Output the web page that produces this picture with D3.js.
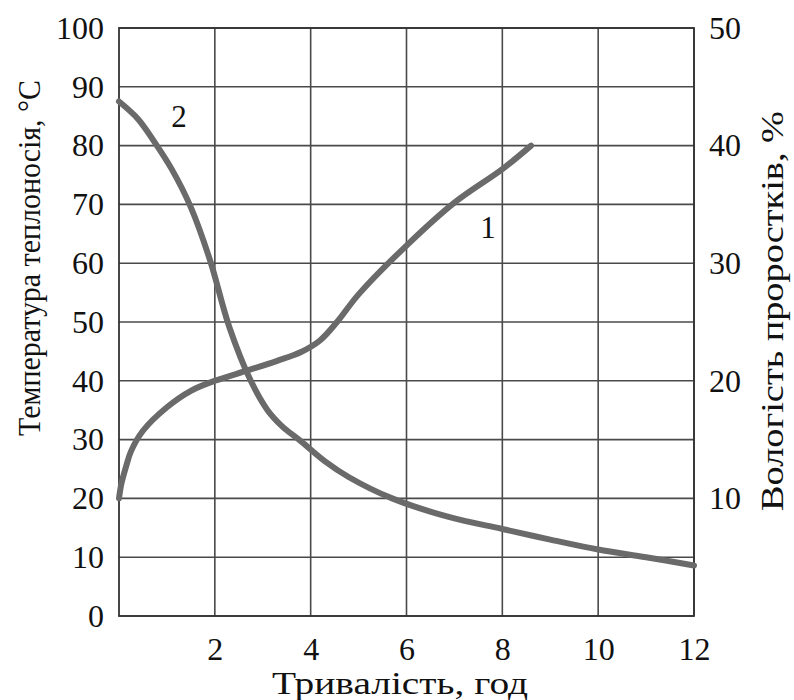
<!DOCTYPE html>
<html>
<head>
<meta charset="utf-8">
<script src="https://cdn.jsdelivr.net/npm/d3@7"></script>
<style>
  html, body { margin: 0; padding: 0; background: #fff; }
  svg { display: block; }
  svg text { font-family: "Liberation Serif", "Times New Roman", Times, "DejaVu Serif", "Noto Serif", "Tinos", "FreeSerif", serif; fill: #111; }
</style>
</head>
<body>
<svg id="chart" width="794" height="700"></svg>
<script>
// Duration of processing, hours
const hours1 = [0, 0.05, 0.15, 0.25, 0.5, 1, 1.5, 2, 2.7, 3.3, 3.8, 4.2, 4.55, 5, 6, 7, 8, 8.6];
// Curve 1: heat-carrier temperature, °C
const temperature = [20, 22.5, 25.5, 28, 31.5, 35.5, 38.3, 40, 41.8, 43.4, 44.9, 46.9, 50, 54.7, 63, 70.3, 76, 80];

const hours2 = [0, 0.4, 0.75, 1.1, 1.5, 1.9, 2.3, 2.75, 3.1, 3.4, 3.8, 4.3, 4.8, 5.7, 6.9, 8, 9, 10, 11, 12];
// Curve 2: sprout moisture, %
const moisture = [43.75, 42.25, 40.25, 38, 34.75, 30.25, 24.6, 20, 17.5, 16.15, 14.85, 13.15, 11.8, 10, 8.4, 7.4, 6.5, 5.65, 5.0, 4.3];

const xTicks = [2, 4, 6, 8, 10, 12];
const leftTicks = [0, 10, 20, 30, 40, 50, 60, 70, 80, 90, 100];
const rightTicks = [10, 20, 30, 40, 50];
const curveLabels = [
  { text: "1", x: 7.7, y: 66 },
  { text: "2", x: 1.25, y: 85 }
];

const svg = d3.select("#chart");
const plotL = 119, plotR = 694, plotT = 28, plotB = 616;

const x = d3.scaleLinear().domain([0, 12]).range([plotL, plotR]);
const yL = d3.scaleLinear().domain([0, 100]).range([plotB, plotT]);
const yR = d3.scaleLinear().domain([0, 50]).range([plotB, plotT]);

const gridColor = "#4a4a4a";

// grid: horizontal lines for every left tick, vertical for every x tick
svg.append("g")
  .selectAll("line")
  .data(leftTicks)
  .join("line")
  .attr("x1", plotL).attr("x2", plotR)
  .attr("y1", d => yL(d)).attr("y2", d => yL(d))
  .attr("stroke", gridColor).attr("stroke-width", 1.6);

svg.append("g")
  .selectAll("line")
  .data(xTicks)
  .join("line")
  .attr("x1", d => x(d)).attr("x2", d => x(d))
  .attr("y1", plotT).attr("y2", plotB)
  .attr("stroke", gridColor).attr("stroke-width", 1.6);

// frame
svg.append("rect")
  .attr("x", plotL).attr("y", plotT)
  .attr("width", plotR - plotL).attr("height", plotB - plotT)
  .attr("fill", "none").attr("stroke", "#333").attr("stroke-width", 1.8);

// axes (labels only, lines come from the grid and frame)
const tickFont = 32;
const axB = svg.append("g")
  .attr("transform", `translate(0,${plotB})`)
  .call(d3.axisBottom(x).tickValues(xTicks).tickSize(0).tickPadding(21));
const axL = svg.append("g")
  .attr("transform", `translate(${plotL},0)`)
  .call(d3.axisLeft(yL).tickValues(leftTicks).tickSize(0).tickPadding(15));
const axR = svg.append("g")
  .attr("transform", `translate(${plotR},0)`)
  .call(d3.axisRight(yR).tickValues(rightTicks).tickSize(0).tickPadding(15));
[axB, axL, axR].forEach(g => {
  g.attr("font-family", null).attr("font-size", null);
  g.select(".domain").remove();
  g.selectAll("text")
    .attr("font-size", tickFont)
    .attr("fill", "#111");
});

// curves
const line1 = d3.line()
  .x((d, i) => x(hours1[i]))
  .y(d => yL(d))
  .curve(d3.curveCatmullRom.alpha(0.5));
const line2 = d3.line()
  .x((d, i) => x(hours2[i]))
  .y(d => yR(d))
  .curve(d3.curveCatmullRom.alpha(0.5));

svg.append("path")
  .datum(temperature)
  .attr("d", line1)
  .attr("fill", "none").attr("stroke", "#6a6a6a")
  .attr("stroke-width", 6).attr("stroke-linecap", "round");

svg.append("path")
  .datum(moisture)
  .attr("d", line2)
  .attr("fill", "none").attr("stroke", "#6a6a6a")
  .attr("stroke-width", 6).attr("stroke-linecap", "round");

// curve numbers
svg.append("g")
  .selectAll("text")
  .data(curveLabels)
  .join("text")
  .attr("x", d => x(d.x))
  .attr("y", d => yL(d.y))
  .attr("text-anchor", "middle")
  .attr("dominant-baseline", "central")
  .attr("font-size", 31)
  .text(d => d.text);

// axis titles
svg.append("text")
  .attr("x", 400)
  .attr("y", 694)
  .attr("text-anchor", "middle")
  .attr("font-size", 32)
  .attr("textLength", 256)
  .attr("lengthAdjust", "spacingAndGlyphs")
  .text("Тривалість, год");

svg.append("text")
  .attr("transform", "translate(40,258) rotate(-90)")
  .attr("text-anchor", "middle")
  .attr("font-size", 32)
  .attr("textLength", 356)
  .attr("lengthAdjust", "spacingAndGlyphs")
  .text("Температура теплоносія, °С");

svg.append("text")
  .attr("transform", "translate(783,311) rotate(-90)")
  .attr("text-anchor", "middle")
  .attr("font-size", 32)
  .attr("textLength", 400)
  .attr("lengthAdjust", "spacingAndGlyphs")
  .text("Вологість проростків, %");
</script>
</body>
</html>
